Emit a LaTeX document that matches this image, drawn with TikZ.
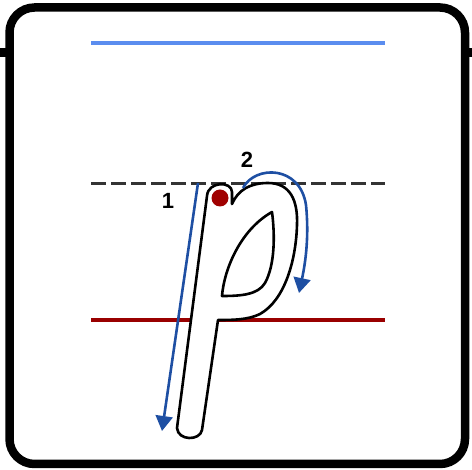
\documentclass[tikz,border=0pt]{standalone}
\usepackage{fontspec}
\setmainfont{Liberation Sans}
\usetikzlibrary{arrows.meta}
\definecolor{guideblue}{HTML}{5B8DEF}
\definecolor{guidered}{HTML}{990000}
\definecolor{strokeblue}{HTML}{1E4FA3}
\definecolor{dotred}{HTML}{A00000}
\tikzset{
  guide/.style={line width=4.5pt},
  strokearrow/.style={strokeblue, line width=2.6pt, -{Triangle[length=15pt,width=17pt]}},
  lbl/.style={font=\fontsize{22}{22}\selectfont\bfseries, inner sep=0pt},
  letter/.style={draw=black, line width=2.6pt, fill=white, line join=round}
}
\begin{document}
\begin{tikzpicture}[x=1pt,y=-1pt]
\useasboundingbox (0,0) rectangle (472,470);
% frame
\draw[line width=8.5pt, rounded corners=25pt] (9.5,7.5) rectangle (465,464);
\draw[line width=8.5pt] (0,52.5) -- (9.5,52.5);
\draw[line width=8.5pt] (465,52.5) -- (472,52.5);
% guide lines
\draw[guide, guideblue] (91,43) -- (385,43);
\draw[line width=3pt, black!80, dash pattern=on 15pt off 5pt] (91,184) -- (385,184);
\draw[guide, guidered] (91,320) -- (385,320);
% letter p outline
\draw[letter]
  (232,204)
  .. controls (238,190) and (250,183) .. (268,183)
  .. controls (290,183) and (298,200) .. (297,225)
  .. controls (296,260) and (285,300) .. (260,314)
  .. controls (248,320) and (232,320) .. (218,320)
  -- (202,430)
  .. controls (200,441) and (178,441) .. (177,428)
  -- (207,196)
  .. controls (208,181) and (232,181) .. (232,192)
  -- cycle;
\draw[letter]
  (272,212)
  .. controls (275,235) and (275,265) .. (265,283)
  .. controls (258,295) and (240,296) .. (222,296)
  .. controls (224,270) and (240,230) .. (272,212)
  -- cycle;
% start dot
\fill[dotred] (220,198) circle (8.5pt);
% stroke arrows
\coordinate (s1a) at (198,183);
\coordinate (s1b) at (162,431);
\draw[strokearrow] (s1a) -- (s1b);
\coordinate (s2a) at (243,188);
\coordinate (s2b) at (299,293);
\draw[strokearrow] (s2a) .. controls (255,165) and (300,165) .. (306,205)
  .. controls (309,235) and (306,260) .. (s2b);
% labels
\node[lbl] (n1) at (168,201) {1};
\node[lbl] (n2) at (247,160) {2};
\end{tikzpicture}
\end{document}
